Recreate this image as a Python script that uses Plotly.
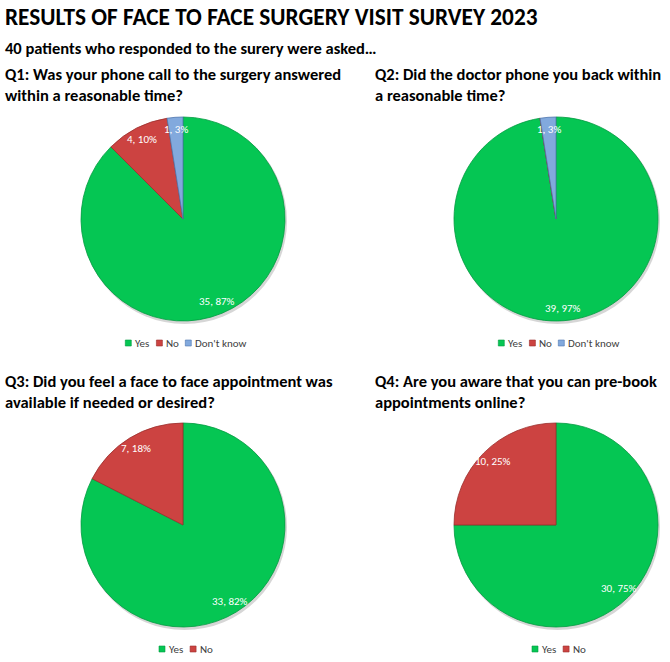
import math
import plotly.graph_objects as go

W, H = 670, 662
FONT = "Carlito, Lato, sans-serif"

title = "RESULTS OF FACE TO FACE SURGERY VISIT SURVEY 2023"
subtitle = "40 patients who responded to the surery were asked…"

questions = [
    "Q1: Was your phone call to the surgery answered<br>within a reasonable time?",
    "Q2: Did the doctor phone you back within<br>a reasonable time?",
    "Q3: Did you feel a face to face appointment was<br>available if needed or desired?",
    "Q4: Are you aware that you can pre-book<br>appointments online?",
]

labels_q1 = ["Yes", "No", "Don't know"]
labels_q2 = ["Yes", "No", "Don't know"]
labels_q3 = ["Yes", "No"]
labels_q4 = ["Yes", "No"]

counts_q1 = [35, 4, 1]
counts_q2 = [39, 0, 1]
counts_q3 = [33, 7]
counts_q4 = [30, 10]

pct_q1 = [87, 10, 3]
pct_q2 = [97, 0, 3]
pct_q3 = [82, 18]
pct_q4 = [75, 25]

colors = {"Yes": "#05C653", "No": "#CC4341", "Don't know": "#82A9DD"}
edge = {"Yes": "#039A40", "No": "#9A2E2C", "Don't know": "#4F76AE"}

# layout geometry (pixels)
R = 102
centers = [(183, 219), (556, 219), (183, 525), (556, 525)]
q_pos = [(3, 85), (373, 85), (3, 391), (373, 391)]
legend_y = [343, 343, 649, 649]
LEG_FS = 11
# approximate rendered widths (px) of the legend words at LEG_FS
legend_text_w = {"Yes": 15.1, "No": 12.9, "Don't know": 51.4}
SQ = 6          # legend swatch size
SQ_GAP = 8      # swatch left edge -> text start
ITEM_GAP = 8    # text end -> next swatch

datasets = [
    (labels_q1, counts_q1, pct_q1),
    (labels_q2, counts_q2, pct_q2),
    (labels_q3, counts_q3, pct_q3),
    (labels_q4, counts_q4, pct_q4),
]

fig = go.Figure()
annotations = []
shapes = []

for i, ((labs, vals, pcts), (cx, cy)) in enumerate(zip(datasets, centers)):
    # soft shadow under the pie
    shapes.append(dict(
        type="circle", xref="paper", yref="paper", layer="below",
        x0=(cx - R + 1) / W, x1=(cx + R + 2) / W,
        y0=1 - (cy + R + 3) / H, y1=1 - (cy - R + 1) / H,
        fillcolor="rgba(0,0,0,0.16)", line=dict(width=0)))
    fig.add_trace(go.Pie(
        labels=labs, values=vals, sort=False, direction="clockwise", rotation=0,
        marker=dict(colors=[colors[l] for l in labs],
                    line=dict(color=[edge[l] for l in labs], width=0.8)),
        textinfo="none", hoverinfo="label+value+percent",
        domain=dict(x=[(cx - R) / W, (cx + R) / W], y=[1 - (cy + R) / H, 1 - (cy - R) / H]),
        showlegend=False,
    ))
    # data labels along mid-angle near the outer edge
    total = sum(vals)
    cum = 0
    for v, p in zip(vals, pcts):
        if v > 0:
            a = math.radians((cum + v / 2) / total * 360)
            px = cx + 0.88 * R * math.sin(a)
            py = cy - 0.88 * R * math.cos(a)
            annotations.append(dict(
                x=px / W, y=1 - py / H, xref="paper", yref="paper",
                text=f"{v}, {p}%", showarrow=False,
                font=dict(family=FONT, size=11, color="white"),
                xanchor="center", yanchor="middle"))
        cum += v
    # legend row (swatch + label per category)
    row_w = sum(SQ_GAP + legend_text_w[l] for l in labs) + ITEM_GAP * (len(labs) - 1)
    x = cx + 2 - row_w / 2
    ly = legend_y[i]
    for l in labs:
        shapes.append(dict(
            type="rect", xref="paper", yref="paper",
            x0=x / W, x1=(x + SQ) / W, y0=1 - (ly + SQ / 2) / H, y1=1 - (ly - SQ / 2) / H,
            fillcolor=colors[l], line=dict(color=edge[l], width=0.6)))
        annotations.append(dict(
            x=(x + SQ_GAP) / W, y=1 - ly / H, xref="paper", yref="paper",
            text=l, showarrow=False, xanchor="left", yanchor="middle",
            font=dict(family=FONT, size=LEG_FS, color="#404040")))
        x += SQ_GAP + legend_text_w[l] + ITEM_GAP
    qx, qy = q_pos[i]
    annotations.append(dict(
        x=qx / W, y=1 - qy / H, xref="paper", yref="paper", text=f"<b>{questions[i]}</b>",
        showarrow=False, xanchor="left", yanchor="middle", align="left",
        font=dict(family=FONT, size=16.5, color="black")))

annotations.append(dict(
    x=3 / W, y=1 - 17 / H, xref="paper", yref="paper", text=f"<b>{title}</b>",
    showarrow=False, xanchor="left", yanchor="middle",
    font=dict(family=FONT, size=23.3, color="black")))
annotations.append(dict(
    x=3 / W, y=1 - 48 / H, xref="paper", yref="paper", text=f"<b>{subtitle}</b>",
    showarrow=False, xanchor="left", yanchor="middle",
    font=dict(family=FONT, size=16.5, color="black")))

fig.update_layout(
    width=W, height=H, margin=dict(l=0, r=0, t=0, b=0),
    paper_bgcolor="white", plot_bgcolor="white", showlegend=False,
    annotations=annotations, shapes=shapes)

fig.write_html("out.html", config={"displayModeBar": False},
               post_script="document.body.style.margin='0';")
